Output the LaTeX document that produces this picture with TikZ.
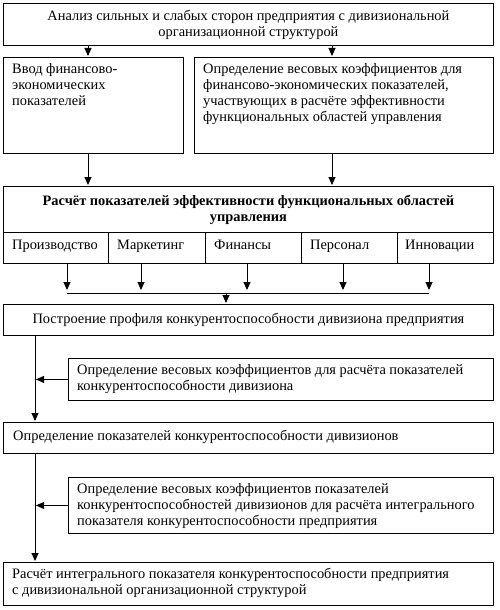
\documentclass[tikz,border=0pt]{standalone}
\usepackage{fontspec}
\setmainfont{Liberation Serif}
\usetikzlibrary{arrows.meta}

\begin{document}
\begin{tikzpicture}[x=1pt, y=-1pt,
  blk/.style={draw, line width=0.9pt, inner sep=0pt, anchor=north west},
  txt/.style={inner sep=0pt, align=left, anchor=north west, font=\fontsize{14.4}{16}\selectfont},
  ctxt/.style={align=center, font=\fontsize{14.4}{16}\selectfont},
  arr/.style={line width=0.9pt, -{Triangle[length=8pt,width=7pt]}, shorten >=1pt},
  ln/.style={line width=0.9pt}]
\useasboundingbox (0,0) rectangle (500,610);

% Top box
\node[blk, minimum width=490pt, minimum height=42pt, ctxt, anchor=north west] (analiz) at (3,3)
  {Анализ сильных и слабых сторон предприятия с дивизиональной\\организационной структурой};

% Input boxes
\node[blk, minimum width=180pt, minimum height=96pt] (vvod) at (3,57) {};
\node[txt] at (12,63) {Ввод финансово-\\экономических\\показателей};
\node[blk, minimum width=299pt, minimum height=96pt] (vesa) at (194,57) {};
\node[txt] at (203,63) {Определение весовых коэффициентов для\\финансово-экономических показателей,\\участвующих в расчёте эффективности\\функциональных областей управления};

% Calculation box
\node[blk, minimum width=490pt, minimum height=46pt, ctxt, font=\fontsize{14.4}{16}\selectfont\bfseries] (raschet) at (3,186)
  {Расчёт показателей эффективности функциональных областей\\управления};

% Functional areas
\node[blk, minimum width=105pt, minimum height=31pt] (c1) at (3,232) {};
\node[blk, minimum width=97pt, minimum height=31pt] (c2) at (108,232) {};
\node[blk, minimum width=96pt, minimum height=31pt] (c3) at (205,232) {};
\node[blk, minimum width=96pt, minimum height=31pt] (c4) at (301,232) {};
\node[blk, minimum width=96pt, minimum height=31pt] (c5) at (397,232) {};
\node[txt] at (12,240) {Производство};
\node[txt] at (117,240) {Маркетинг};
\node[txt] at (214,240) {Финансы};
\node[txt] at (310,240) {Персонал};
\node[txt] at (405,240) {Инновации};

% Profile
\node[blk, minimum width=490pt, minimum height=31pt, ctxt] (profil) at (3,304)
  {Построение профиля конкурентоспособности дивизиона предприятия};

\node[blk, minimum width=425pt, minimum height=42pt] (vesdiv) at (68,358) {};
\node[txt] at (77,364) {Определение весовых коэффициентов для расчёта показателей\\конкурентоспособности дивизиона};

\node[blk, minimum width=490pt, minimum height=31pt] (opred) at (3,422) {};
\node[txt] at (13,430) {Определение показателей конкурентоспособности дивизионов};

\node[blk, minimum width=425pt, minimum height=56pt] (vesint) at (68,477) {};
\node[txt] at (77,483) {Определение весовых коэффициентов показателей\\конкурентоспособностей дивизионов для расчёта интегрального\\показателя конкурентоспособности предприятия};

\node[blk, minimum width=490pt, minimum height=43pt] (integr) at (3,562) {};
\node[txt] at (12,568) {Расчёт интегрального показателя конкурентоспособности предприятия\\с дивизиональной организационной структурой};

% Connectors
\coordinate (xl) at (88,0);
\coordinate (xr) at (332,0);
\coordinate (spine) at (35,0);
\draw[arr] (analiz.south -| xl) -- (vvod.north -| xl);
\draw[arr] (analiz.south -| xr) -- (vesa.north -| xr);
\draw[arr] (vvod.south -| xl) -- (raschet.north -| xl);
\draw[arr] (vesa.south -| xr) -- (raschet.north -| xr);

\foreach \n/\x in {c1/67, c2/141, c3/247, c4/343, c5/429} {
  \coordinate (t\n) at (\x,293);
  \draw[arr, shorten >=3pt] (\n.south -| t\n) -- (t\n);
}
\draw[ln] (tc1) -- (tc5);
\coordinate (bus) at (226,293);
\draw[arr] (bus) -- (profil.north -| bus);

\draw[arr] (profil.south -| spine) -- (opred.north -| spine);
\draw[arr] (vesdiv.west) -- (vesdiv.west -| spine);
\draw[arr] (opred.south -| spine) -- (integr.north -| spine);
\draw[arr] (vesint.west) -- (vesint.west -| spine);
\end{tikzpicture}
\end{document}
